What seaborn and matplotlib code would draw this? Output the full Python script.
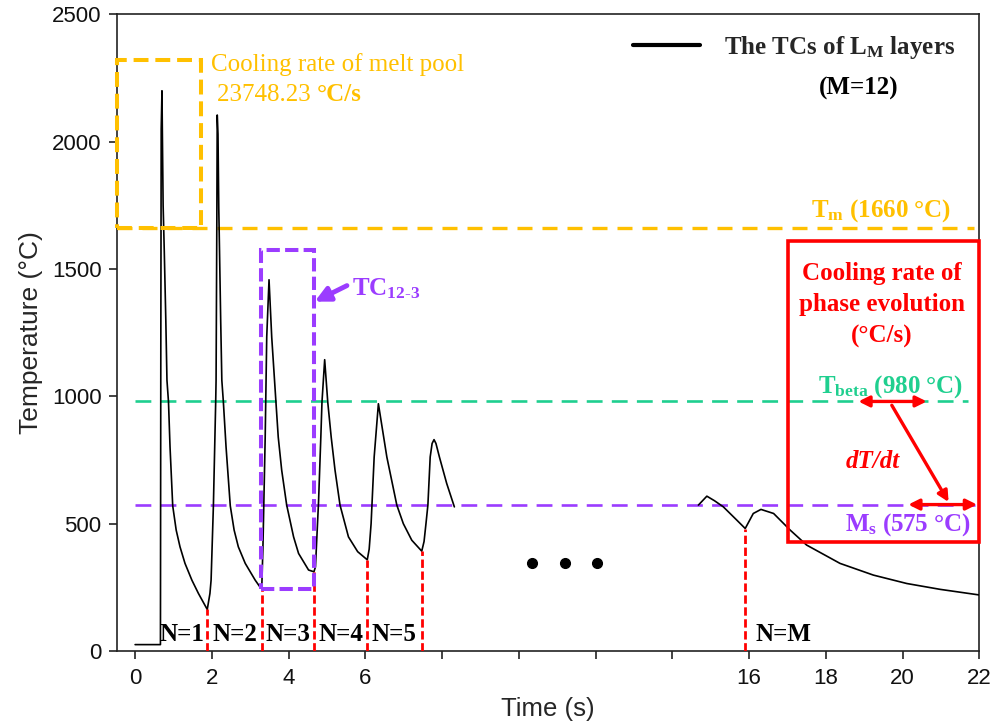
import matplotlib
matplotlib.use("Agg")
import matplotlib.pyplot as plt
import pandas as pd
import seaborn as sns
from matplotlib.lines import Line2D
from matplotlib.patches import Rectangle
from matplotlib.font_manager import FontProperties

# Thermal cycles of the first deposited layers (N = 1 ... 6)
early_time = [0.00, 0.66, 0.67, 0.68, 0.70, 0.71, 0.73, 0.76, 0.80, 0.83, 0.87, 0.91, 0.98,
              1.07, 1.17, 1.30, 1.48, 1.65, 1.88,
              1.95, 1.98, 2.04, 2.10, 2.11, 2.13, 2.14, 2.16, 2.18, 2.20, 2.23, 2.26, 2.30,
              2.37, 2.48, 2.58, 2.69, 2.87, 3.13, 3.26, 3.30,
              3.33, 3.39, 3.43, 3.49, 3.56, 3.67, 3.73, 3.82, 3.95, 4.13, 4.26, 4.52, 4.66,
              4.70, 4.78, 4.84, 4.87, 4.94, 5.02, 5.11, 5.21, 5.34, 5.56, 5.80, 6.05,
              6.10, 6.15, 6.23, 6.34, 6.56, 6.82, 6.99, 7.21, 7.47,
              7.53, 7.58, 7.63, 7.69, 7.74, 7.79, 7.84, 7.93, 8.12, 8.32]
early_temp = [25, 25, 1200, 2050, 2200, 2040, 1750, 1570, 1300, 1063, 978, 801, 570,
              475, 409, 344, 278, 226, 163,
              226, 278, 570, 978, 1063, 1700, 2105, 2030, 1740, 1570, 1300, 1063, 978,
              801, 570, 475, 409, 344, 278, 250, 245,
              400, 840, 1233, 1458, 1233, 978, 840, 710, 573, 448, 383, 318, 311,
              330, 585, 840, 978, 1144, 978, 840, 710, 573, 448, 390, 358,
              400, 500, 762, 971, 762, 573, 500, 435, 392,
              430, 500, 573, 762, 815, 830, 815, 762, 658, 566]

# Thermal cycle of the last layers (N = M)
late_time = [14.68, 14.90, 15.10, 15.33, 15.68, 15.90, 16.11, 16.31, 16.64, 17.07,
             17.50, 18.37, 19.24, 20.11, 20.98, 22.00]
late_temp = [573, 608, 590, 566, 514, 481, 540, 556, 540, 475,
             416, 344, 298, 265, 242, 220]

# Reference temperatures (°C)
t_melt = 1660
t_beta = 980
t_ms = 575

# Valleys separating the successive cycles
valley_time = [1.88, 3.30, 4.66, 6.05, 7.47, 15.90]
valley_temp = [163, 245, 311, 358, 392, 481]
cycle_labels = ["N=1", "N=2", "N=3", "N=4", "N=5", "N=M"]
cycle_label_time = [1.22, 2.59, 3.99, 5.36, 6.75, 16.91]

# Omitted layers marker
ellipsis_time = [10.35, 11.2, 12.05]
ellipsis_temp = [346, 346, 346]

x_ticks = [0, 2, 4, 6, 8, 10, 12, 14, 16, 18, 20, 22]
x_tick_labels = ["0", "2", "4", "6", "", "", "", "", "16", "18", "20", "22"]
y_ticks = [0, 500, 1000, 1500, 2000, 2500]

ORANGE = "#FFC000"
GREEN = "#1FCF8F"
PURPLE = "#9B3CFF"
RED = "#FF0000"

sns.set_style("ticks")
plt.rcParams["font.family"] = ["Liberation Sans", "DejaVu Sans"]
plt.rcParams["mathtext.fontset"] = "custom"
plt.rcParams["mathtext.rm"] = "Liberation Serif"
plt.rcParams["mathtext.bf"] = "Liberation Serif:bold"
plt.rcParams["mathtext.it"] = "Liberation Serif:italic"

serif = ["Liberation Serif", "DejaVu Serif"]

fig = plt.figure(figsize=(9.94, 7.25), dpi=100)
ax = fig.add_axes([0.1174, 0.1021, 0.8678, 0.878])

df = pd.concat([
    pd.DataFrame({"time": early_time, "temp": early_temp, "part": "early"}),
    pd.DataFrame({"time": late_time, "temp": late_temp, "part": "late"}),
])
sns.lineplot(data=df, x="time", y="temp", units="part", estimator=None, sort=False,
             color="black", lw=1.2, ax=ax, legend=False, zorder=3)

# Characteristic temperature lines
ax.hlines(t_melt, -0.48, 21.85, colors=ORANGE, lw=2.4, linestyles=[(0, (4.5, 3))], zorder=2)
ax.hlines(t_beta, 0, 21.7, colors=GREEN, lw=1.9, linestyles=[(0, (6, 3.5))], zorder=2)
ax.hlines(t_ms, 0, 21.9, colors=PURPLE, lw=1.9, linestyles=[(0, (6, 3.5))], zorder=2)

# Cycle boundaries
ax.vlines(valley_time, 0, valley_temp, colors=RED, lw=2.0, linestyles=[(0, (3, 1.3))], zorder=4)
for x, lab in zip(cycle_label_time, cycle_labels):
    ax.text(x, 66, lab, ha="center", va="center", fontsize=18, fontweight="bold",
            family=serif, color="black")

ax.plot(ellipsis_time, ellipsis_temp, "o", color="black", ms=7, zorder=4)

# Melt pool box
ax.add_patch(Rectangle((-0.48, t_melt), 1.72 + 0.48, 2320 - t_melt, fill=False, ec=ORANGE,
                       lw=2.9, ls=(0, (3.7, 1.7)), clip_on=False, zorder=5))
ax.text(1.98, 2302, "Cooling rate of melt pool", ha="left", va="center", fontsize=18,
        family=serif, color=ORANGE)
rate = ax.text(2.14, 2182, "23748.23 ", ha="left", va="center", fontsize=18,
               family=serif, color=ORANGE)
ax.annotate("°C/s", xy=(1, 0), xycoords=rate, ha="left", va="bottom", fontsize=18,
            family=serif, fontweight="bold", color=ORANGE)
ax.text(19.44, 1728, r"T$_\mathbf{m}$ (1660 °C)", ha="center", va="center", fontsize=18,
        family=serif, fontweight="bold", color=ORANGE)

# Third cycle box and its label
ax.add_patch(Rectangle((3.276, 243), 4.673 - 3.276, 1576 - 243, fill=False, ec=PURPLE,
                       lw=2.9, ls=(0, (3.3, 1.3)), zorder=5))
ax.annotate("", xy=(4.68, 1372), xytext=(5.52, 1435),
            arrowprops=dict(arrowstyle="-|>", color=PURPLE, lw=3.5, mutation_scale=22,
                            shrinkA=0, shrinkB=0))
ax.text(5.65, 1422, r"TC$_{\mathbf{12\text{-}3}}$", ha="left", va="center", fontsize=18,
        family=serif, fontweight="bold", color=PURPLE)

# Phase evolution box
ax.add_patch(Rectangle((17.02, 429), 22.0 - 17.02, 1609 - 429, fill=False, ec=RED,
                       lw=2.6, clip_on=False, zorder=5))
ax.text(19.46, 1360, "Cooling rate of\nphase evolution\n(°C/s)", ha="center", va="center",
        multialignment="center", fontsize=18, family=serif, fontweight="bold", color=RED,
        linespacing=1.45)
ax.text(19.70, 1040, r"T$_\mathbf{beta}$ (980 °C)", ha="center", va="center", fontsize=18,
        family=serif, fontweight="bold", color=GREEN)
ax.text(20.13, 496, r"M$_\mathbf{s}$ (575 °C)", ha="center", va="center", fontsize=18,
        family=serif, fontweight="bold", color=PURPLE, zorder=6)
ax.text(19.23, 745, "dT/dt", ha="center", va="center", fontsize=18, family=serif,
        fontweight="bold", fontstyle="italic", color=RED)
arrow_kw = dict(color=RED, lw=2.4, mutation_scale=16, shrinkA=0, shrinkB=0)
ax.annotate("", xy=(18.85, t_beta), xytext=(20.63, t_beta),
            arrowprops=dict(arrowstyle="<|-|>", **arrow_kw), zorder=6)
ax.annotate("", xy=(20.15, t_ms), xytext=(21.94, t_ms),
            arrowprops=dict(arrowstyle="<|-|>", **arrow_kw), zorder=6)
ax.annotate("", xy=(21.2, 585), xytext=(19.72, 965),
            arrowprops=dict(arrowstyle="-|>", **arrow_kw), zorder=6)

# Legend
leg = ax.legend(handles=[Line2D([], [], color="black", lw=3)],
                labels=[r"The TCs of L$_\mathbf{M}$ layers"],
                loc="upper left", bbox_to_anchor=(0.5985, 0.970), frameon=False,
                handlelength=2.7, handletextpad=0.95, borderpad=0, borderaxespad=0,
                prop=FontProperties(family=serif, weight="bold", size=18))
ax.text(18.87, 2210, "(M=12)", ha="center", va="center", fontsize=18, family=serif,
        fontweight="bold", color="black")

# Axes
ax.set_xlim(-0.48, 22)
ax.set_ylim(0, 2500)
ax.set_xticks(x_ticks)
ax.set_xticklabels(x_tick_labels)
ax.set_yticks(y_ticks)
ax.tick_params(axis="both", direction="out", length=6, width=1.2, labelsize=16,
               color="#222222", labelcolor="#111111")
ax.tick_params(axis="x", pad=6)
ax.tick_params(axis="y", pad=5)
ax.set_xlabel("Time (s)", fontsize=18.5, labelpad=6)
ax.set_ylabel("Temperature (°C)", fontsize=19, labelpad=6)
for side in ["top", "right", "bottom", "left"]:
    ax.spines[side].set_visible(True)
    ax.spines[side].set_linewidth(1.2)
    ax.spines[side].set_color("#222222")

fig.savefig("out.png", dpi=100)
